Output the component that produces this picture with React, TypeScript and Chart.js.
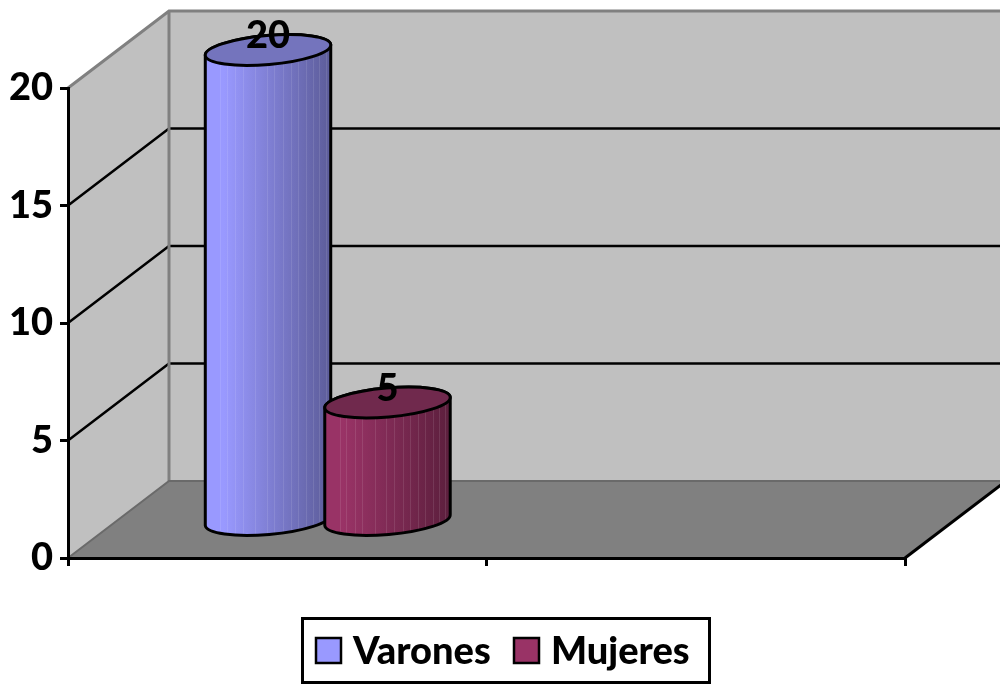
import React, { useEffect, useRef } from "react";
import { Chart, registerables } from "chart.js";

Chart.register(...registerables);

const categories = ["", " "];
const seriesNames = ["Varones", "Mujeres"];
const varonesValues = [20, null];
const mujeresValues = [5, null];
const yTicks = [0, 5, 10, 15, 20];
const bodyLight = ["#9999ff", "#993366"];
const bodyDark = ["#5c5c99", "#5c1f3d"];
const topColors = ["#7474bd", "#70294d"];

const DEPTH_X = 101;
const DEPTH_Y = -77;
const FONT = "Lato, Carlito, sans-serif";
const stripes = [0.12, 0.17, 0.24, 0.3, 0.4, 0.49, 0.55, 0.62, 0.68, 0.74, 0.8, 0.86, 0.91, 0.96];

const scene3d = {
  id: "scene3d",
  beforeDraw(chart: any) {
    const { ctx, scales } = chart;
    const x = scales.x;
    const y = scales.y;
    const L = x.left, R = x.right, B = y.bottom, T = y.top;
    ctx.save();
    ctx.fillStyle = "#ffffff";
    ctx.fillRect(0, 0, chart.width, chart.height);
    // side wall + back wall
    ctx.fillStyle = "#c0c0c0";
    ctx.beginPath();
    ctx.moveTo(L, B); ctx.lineTo(L, T); ctx.lineTo(L + DEPTH_X, T + DEPTH_Y);
    ctx.lineTo(L + DEPTH_X, B + DEPTH_Y); ctx.closePath(); ctx.fill();
    ctx.fillRect(L + DEPTH_X, T + DEPTH_Y, chart.width, B - T);
    // floor
    ctx.fillStyle = "#808080";
    ctx.beginPath();
    ctx.moveTo(L, B); ctx.lineTo(R, B); ctx.lineTo(R + DEPTH_X, B + DEPTH_Y);
    ctx.lineTo(L + DEPTH_X, B + DEPTH_Y); ctx.closePath(); ctx.fill();
    // gridlines
    ctx.strokeStyle = "#000000";
    ctx.lineWidth = 2.5;
    yTicks.slice(1, -1).forEach((v) => {
      const p = y.getPixelForValue(v);
      ctx.beginPath();
      ctx.moveTo(L, p); ctx.lineTo(L + DEPTH_X, p + DEPTH_Y); ctx.lineTo(chart.width, p + DEPTH_Y);
      ctx.stroke();
    });
    // wall edges
    ctx.strokeStyle = "#808080";
    ctx.lineWidth = 3;
    ctx.beginPath();
    ctx.moveTo(L, T); ctx.lineTo(L + DEPTH_X, T + DEPTH_Y); ctx.lineTo(chart.width, T + DEPTH_Y);
    ctx.moveTo(L + DEPTH_X, T + DEPTH_Y); ctx.lineTo(L + DEPTH_X, B + DEPTH_Y);
    ctx.stroke();
    ctx.strokeStyle = "#6a6a6a";
    ctx.lineWidth = 2;
    ctx.beginPath();
    ctx.moveTo(L, B); ctx.lineTo(L + DEPTH_X, B + DEPTH_Y); ctx.lineTo(chart.width, B + DEPTH_Y);
    ctx.stroke();
    ctx.strokeStyle = "#000000";
    ctx.lineWidth = 3;
    ctx.beginPath();
    ctx.moveTo(R, B); ctx.lineTo(R + DEPTH_X, B + DEPTH_Y);
    ctx.stroke();
    ctx.restore();
  },
  afterDatasetsDraw(chart: any) {
    const { ctx } = chart;
    const theta = (-5 * Math.PI) / 180;
    chart.data.datasets.forEach((ds: any, di: number) => {
      chart.getDatasetMeta(di).data.forEach((bar: any, i: number) => {
        const v = ds.data[i];
        if (v == null) return;
        const rx = bar.width * 0.527;
        const ry = 14.5;
        const cx = bar.x + DEPTH_X / 2;
        const topY = bar.y + DEPTH_Y / 2 + 0.5;
        const baseY = bar.base + DEPTH_Y / 2 + 2;
        const ex = rx * Math.cos(theta);
        const ey = rx * Math.sin(theta);
        const body = () => {
          ctx.beginPath();
          ctx.moveTo(cx - ex, topY - ey);
          ctx.lineTo(cx - ex, baseY - ey);
          ctx.ellipse(cx, baseY, rx, ry, theta, Math.PI, 0, true);
          ctx.lineTo(cx + ex, topY + ey);
          ctx.ellipse(cx, topY, rx, ry, theta, 0, Math.PI, true);
          ctx.closePath();
        };
        ctx.save();
        const g = ctx.createLinearGradient(cx - ex, 0, cx + ex, 0);
        g.addColorStop(0, bodyLight[di]);
        g.addColorStop(0.15, bodyLight[di]);
        g.addColorStop(1, bodyDark[di]);
        body();
        ctx.fillStyle = g;
        ctx.fill();
        ctx.save();
        ctx.clip();
        ctx.strokeStyle = "rgba(255,255,255,0.1)";
        ctx.lineWidth = 1;
        stripes.forEach((f) => {
          const sx = Math.round(cx - ex + f * 2 * ex) + 0.5;
          ctx.beginPath();
          ctx.moveTo(sx, topY - 30);
          ctx.lineTo(sx, baseY + 30);
          ctx.stroke();
        });
        ctx.restore();
        ctx.strokeStyle = "#000000";
        ctx.lineWidth = 3;
        ctx.lineJoin = "round";
        body();
        ctx.stroke();
        ctx.beginPath();
        ctx.ellipse(cx, topY, rx, ry, theta, 0, Math.PI * 2);
        ctx.fillStyle = topColors[di];
        ctx.fill();
        ctx.stroke();
        // value label
        ctx.fillStyle = "#000000";
        ctx.font = `900 38px ${FONT}`;
        ctx.textAlign = "center";
        ctx.textBaseline = "middle";
        ctx.fillText(String(v), cx, topY - 14);
        ctx.restore();
      });
    });
  },
  afterDraw(chart: any) {
    const { ctx } = chart;
    ctx.save();
    ctx.strokeStyle = "#000000";
    ctx.lineWidth = 3;
    ctx.fillStyle = "#ffffff";
    ctx.beginPath();
    ctx.rect(302.5, 618.5, 407, 64);
    ctx.fill();
    ctx.stroke();
    const boxX = [316, 514];
    const textX = [353, 551];
    chart.data.datasets.forEach((ds: any, di: number) => {
      ctx.fillStyle = bodyLight[di];
      ctx.lineWidth = 2.5;
      ctx.fillRect(boxX[di], 638, 25, 25);
      ctx.strokeRect(boxX[di], 638, 25, 25);
      ctx.fillStyle = "#000000";
      ctx.font = `900 38px ${FONT}`;
      ctx.textAlign = "left";
      ctx.textBaseline = "middle";
      ctx.fillText(ds.label, textX[di], 652);
    });
    ctx.restore();
  },
};

export default function App() {
  const ref = useRef<HTMLCanvasElement>(null);
  useEffect(() => {
    document.body.style.margin = "0";
    const chart = new Chart(ref.current as HTMLCanvasElement, {
      type: "bar",
      data: {
        labels: categories,
        datasets: [
          { label: seriesNames[0], data: varonesValues, backgroundColor: "rgba(0,0,0,0)", borderWidth: 0 },
          { label: seriesNames[1], data: mujeresValues, backgroundColor: "rgba(0,0,0,0)", borderWidth: 0 },
        ],
      },
      options: {
        responsive: false,
        animation: false,
        layout: { padding: { top: 88, right: 95, left: 0, bottom: 0 } },
        datasets: { bar: { barPercentage: 1, categoryPercentage: 0.571 } },
        plugins: { legend: { display: false }, tooltip: { enabled: false } },
        scales: {
          x: {
            afterFit: (s: any) => { s.height = 126; },
            border: { color: "#000000", width: 3 },
            grid: { drawOnChartArea: false, color: "#000000", lineWidth: 3, tickLength: 8 },
            ticks: { display: false },
          },
          y: {
            min: 0,
            max: 20,
            afterFit: (s: any) => { s.width = 68; },
            afterBuildTicks: (s: any) => { s.ticks = yTicks.map((value) => ({ value })); },
            border: { color: "#000000", width: 3 },
            grid: { drawOnChartArea: false, color: "#000000", lineWidth: 3, tickLength: 8 },
            ticks: { color: "#000000", padding: 7, font: { family: FONT, size: 38, weight: "900" } },
          },
        },
      },
      plugins: [scene3d],
    } as any);
    return () => chart.destroy();
  }, []);
  return <canvas ref={ref} width={1000} height={684} style={{ display: "block" }} />;
}
